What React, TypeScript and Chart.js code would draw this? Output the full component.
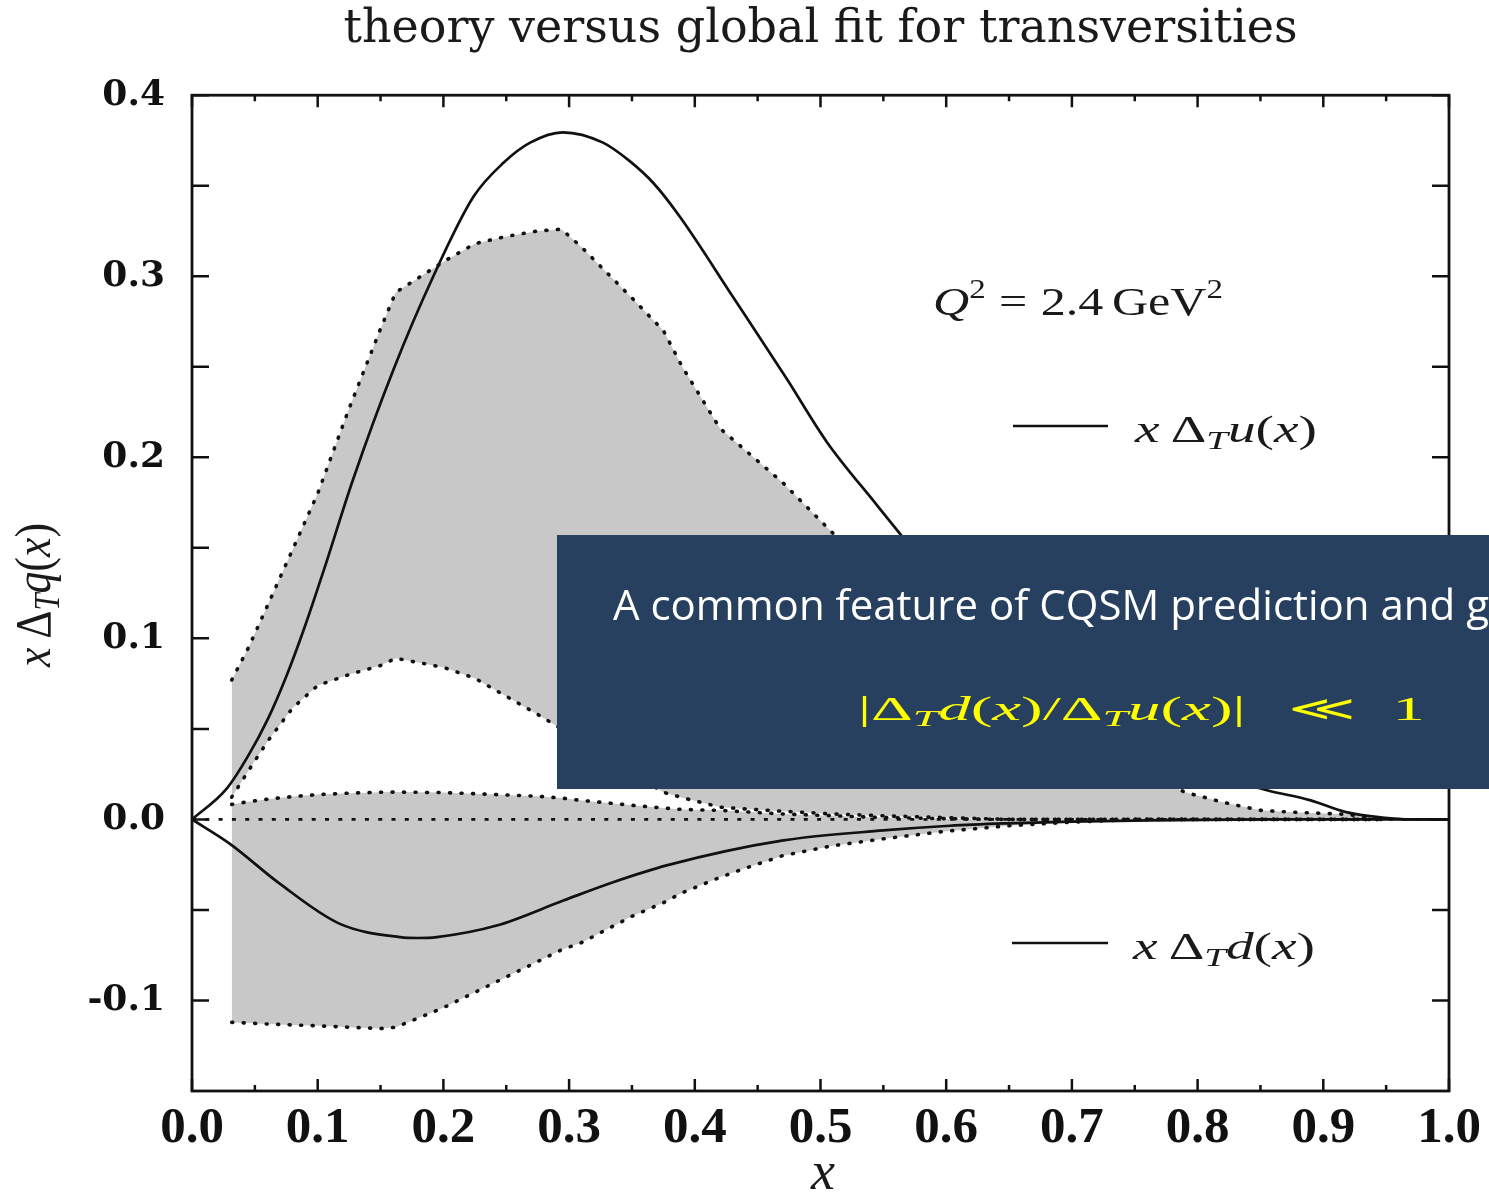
import React, { useEffect, useRef } from "react";
import { Chart, registerables } from "chart.js";

Chart.register(...registerables);

const TITLE = "theory versus global fit for transversities";

// Chiral quark soliton model: x Δ_T u(x)
const uX = [0, 0.0276, 0.045, 0.06, 0.075, 0.09, 0.105, 0.128, 0.16, 0.192, 0.224, 0.248, 0.269, 0.295, 0.327, 0.348, 0.367, 0.388, 0.43, 0.473, 0.505, 0.545, 0.563, 0.6, 0.65, 0.7, 0.75, 0.8, 0.856, 0.89, 0.918, 0.947, 0.97, 1.0];
const uY = [0, 0.017, 0.0355, 0.055, 0.079, 0.107, 0.138, 0.1875, 0.248, 0.3, 0.344, 0.3628, 0.3738, 0.3795, 0.3738, 0.3637, 0.3515, 0.333, 0.289, 0.2435, 0.2085, 0.1735, 0.158, 0.125, 0.085, 0.058, 0.04, 0.027, 0.016, 0.0105, 0.004, 0.001, 0, 0];

// Chiral quark soliton model: x Δ_T d(x)
const dX = [0, 0.0302, 0.07, 0.1177, 0.1655, 0.18, 0.1947, 0.2424, 0.2954, 0.335, 0.3776, 0.4704, 0.55, 0.603, 0.648, 0.7, 0.762, 0.85, 1.0];
const dY = [0, -0.0135, -0.0356, -0.0577, -0.065, -0.0655, -0.065, -0.0586, -0.0448, -0.0347, -0.0254, -0.0116, -0.0061, -0.0035, -0.0022, -0.0012, -0.0005, 0, 0];

// Global-fit uncertainty bands, sampled on a common x grid
const bandX = [0.0316, 0.045, 0.06, 0.08, 0.1, 0.125, 0.15, 0.162, 0.2, 0.225, 0.25, 0.275, 0.294, 0.31, 0.35, 0.375, 0.39, 0.42, 0.44, 0.47, 0.51, 0.55, 0.6, 0.65, 0.7, 0.75, 0.79, 0.82, 0.85, 0.875, 0.92, 0.935, 0.95];
const uUpper = [0.077, 0.095, 0.118, 0.149, 0.18, 0.227, 0.271, 0.291, 0.308, 0.318, 0.322, 0.325, 0.326, 0.316, 0.288, 0.27, 0.25, 0.216, 0.204, 0.186, 0.158, 0.133, 0.104, 0.075, 0.05, 0.029, 0.015, 0.0095, 0.005, 0.004, 0.0028, 0.001, 0];
const uLower = [0.0123, 0.027, 0.043, 0.0615, 0.074, 0.08, 0.085, 0.089, 0.084, 0.078, 0.068, 0.058, 0.05, 0.043, 0.026, 0.015, 0.012, 0.0068, 0.0058, 0.0045, 0.003, 0.002, 0.001, 0, 0, 0, 0, 0, 0, 0, 0, 0, 0];
const dUpper = [0.0083, 0.0098, 0.0112, 0.0126, 0.0137, 0.0145, 0.015, 0.0151, 0.0148, 0.0142, 0.0135, 0.0128, 0.0118, 0.0105, 0.0078, 0.0063, 0.0055, 0.005, 0.0042, 0.003, 0.002, 0.001, 0.0004, 0, 0, 0, 0, 0, 0, 0, 0, 0, 0];
const dLower = [-0.1121, -0.1125, -0.113, -0.1135, -0.114, -0.1148, -0.1155, -0.1148, -0.104, -0.0955, -0.087, -0.0785, -0.072, -0.068, -0.0535, -0.046, -0.0405, -0.032, -0.027, -0.02, -0.0145, -0.0107, -0.0065, -0.0035, -0.0015, 0, 0, 0, 0, 0, 0, 0, 0];

const zeroX = [0, 1];
const zeroY = [0, 0];

const xTicks = [0, 0.1, 0.2, 0.3, 0.4, 0.5, 0.6, 0.7, 0.8, 0.9, 1.0];
const xTickLabels = ["0.0", "0.1", "0.2", "0.3", "0.4", "0.5", "0.6", "0.7", "0.8", "0.9", "1.0"];
const xMinorTicks = [0.05, 0.15, 0.25, 0.35, 0.45, 0.55, 0.65, 0.75, 0.85, 0.95];
const yTicks = [-0.1, 0, 0.1, 0.2, 0.3, 0.4];
const yTickLabels = ["-0.1", "0.0", "0.1", "0.2", "0.3", "0.4"];
const yMinorTicks = [-0.05, 0.05, 0.15, 0.25, 0.35];

const noteHeading = "A common feature of CQSM prediction and global fit";

const INK = "#111";
const TEXT = "#1a1a1a";
const BAND = "#c8c8c8";
const NOTE_BG = "#274060";
const NOTE_MATH = "#ffff00";

const SERIF = "'Liberation Serif', 'Times New Roman', serif";
const it = (s: number) => `italic ${s}px ${SERIF}`;
const rm = (s: number) => `${s}px ${SERIF}`;

type Run = { t: string; f: string; dy?: number; gap?: number };

const subT = (s: number): Run => ({ t: "T", f: it(Math.round(s * 0.7)), dy: Math.round(s * 0.18) });

// x Δ_T q(x) style label, q being the flavour letter
const flavourRuns = (q: string, s: number): Run[] => [
  { t: "x", f: it(s) },
  { t: "Δ", f: rm(s), gap: s * 0.2 },
  subT(s),
  { t: q, f: it(s) },
  { t: "(", f: rm(s) },
  { t: "x", f: it(s) },
  { t: ")", f: rm(s) },
];

const scaleRuns: Run[] = [
  { t: "Q", f: it(41) },
  { t: "2", f: rm(27), dy: -17 },
  { t: "=", f: rm(41), gap: 11 },
  { t: "2.4", f: rm(41), gap: 11 },
  { t: "GeV", f: rm(41), gap: 7 },
  { t: "2", f: rm(27), dy: -17 },
];

const ratioRuns: Run[] = [
  { t: "|", f: rm(34) },
  { t: "Δ", f: rm(34) },
  subT(34),
  { t: "d", f: it(34) },
  { t: "(", f: rm(34) },
  { t: "x", f: it(34) },
  { t: ")", f: rm(34) },
  { t: "/", f: rm(34) },
  { t: "Δ", f: rm(34) },
  subT(34),
  { t: "u", f: it(34) },
  { t: "(", f: rm(34) },
  { t: "x", f: it(34) },
  { t: ")", f: rm(34) },
  { t: "|", f: rm(34) },
  { t: "≪", f: "34px 'DejaVu Serif'", gap: 22 },
  { t: "1", f: rm(34), gap: 19 },
];

// Draws a sequence of styled text pieces, stretched horizontally to a given width
function drawRuns(ctx: CanvasRenderingContext2D, runs: Run[], x: number, y: number, width: number) {
  let natural = 0;
  for (const r of runs) {
    ctx.font = r.f;
    natural += (r.gap || 0) + ctx.measureText(r.t).width;
  }
  ctx.save();
  ctx.translate(x, y);
  ctx.scale(width / natural, 1);
  ctx.textAlign = "left";
  ctx.textBaseline = "alphabetic";
  let cx = 0;
  for (const r of runs) {
    ctx.font = r.f;
    cx += r.gap || 0;
    ctx.fillText(r.t, cx, r.dy || 0);
    cx += ctx.measureText(r.t).width;
  }
  ctx.restore();
}

const pts = (xs: number[], ys: number[]) => xs.map((x, i) => ({ x, y: ys[i] }));

const framePlugin = {
  id: "frameAndNotes",
  afterDraw(chart: any) {
    const ctx: CanvasRenderingContext2D = chart.ctx;
    const { left, right, top, bottom } = chart.chartArea;
    const xs = chart.scales.x;
    const ys = chart.scales.y;

    ctx.save();
    // inward ticks on all four sides
    ctx.strokeStyle = INK;
    ctx.lineWidth = 2.5;
    ctx.lineCap = "butt";
    ctx.beginPath();
    for (const v of xTicks) {
      const p = xs.getPixelForValue(v);
      ctx.moveTo(p, bottom); ctx.lineTo(p, bottom - 12);
      ctx.moveTo(p, top); ctx.lineTo(p, top + 12);
    }
    for (const v of xMinorTicks) {
      const p = xs.getPixelForValue(v);
      ctx.moveTo(p, bottom); ctx.lineTo(p, bottom - 6);
      ctx.moveTo(p, top); ctx.lineTo(p, top + 6);
    }
    for (const v of [...yTicks, ...yMinorTicks]) {
      const p = ys.getPixelForValue(v);
      ctx.moveTo(left, p); ctx.lineTo(left + 17, p);
      ctx.moveTo(right, p); ctx.lineTo(right - 17, p);
    }
    ctx.stroke();
    ctx.lineWidth = 2.8;
    ctx.strokeRect(left, top, right - left, bottom - top);

    // legend keys
    ctx.lineWidth = 2.5;
    ctx.beginPath();
    ctx.moveTo(1013, 426); ctx.lineTo(1108, 426);
    ctx.moveTo(1012, 943); ctx.lineTo(1108, 943);
    ctx.stroke();

    ctx.fillStyle = TEXT;
    drawRuns(ctx, scaleRuns, 933, 315, 290);
    drawRuns(ctx, flavourRuns("u", 37), 1135, 442, 182);
    drawRuns(ctx, flavourRuns("d", 37), 1133, 959, 182);

    // axis titles
    ctx.save();
    ctx.translate(50, 595);
    ctx.rotate(-Math.PI / 2);
    drawRuns(ctx, flavourRuns("q", 50), -72, 0, 144);
    ctx.restore();

    ctx.font = it(54);
    ctx.textAlign = "center";
    ctx.textBaseline = "alphabetic";
    ctx.fillText("x", 823, 1189);

    // note box
    ctx.fillStyle = NOTE_BG;
    ctx.fillRect(557, 535, chart.width - 557, 254);
    ctx.fillStyle = "#ffffff";
    ctx.font = "42px 'Open Sans', 'Noto Sans', sans-serif";
    ctx.textAlign = "left";
    ctx.fillText(noteHeading, 613, 620);
    ctx.fillStyle = NOTE_MATH;
    drawRuns(ctx, ratioRuns, 858, 720, 567);
    ctx.restore();
  },
};

export default function App() {
  const ref = useRef<HTMLCanvasElement | null>(null);

  useEffect(() => {
    if (!ref.current) return;
    const dotted = {
      borderColor: INK,
      borderWidth: 3.6,
      borderDash: [1, 10.5],
      borderCapStyle: "round" as const,
      pointRadius: 0,
      tension: 0,
    };
    const solid = {
      borderColor: INK,
      borderWidth: 2.7,
      pointRadius: 0,
      cubicInterpolationMode: "monotone" as const,
      fill: false,
    };
    const chart = new Chart(ref.current, {
      type: "line",
      data: {
        datasets: [
          { label: "x ΔTu(x)", data: pts(uX, uY), ...solid },
          { label: "x ΔTd(x)", data: pts(dX, dY), ...solid },
          {
            label: "zero",
            data: pts(zeroX, zeroY),
            borderColor: INK,
            borderWidth: 2.6,
            borderDash: [4, 9.3],
            pointRadius: 0,
            fill: false,
          },
          { label: "u band upper", data: pts(bandX, uUpper), ...dotted, fill: "+1", backgroundColor: BAND },
          { label: "u band lower", data: pts(bandX, uLower), ...dotted, fill: false },
          { label: "d band upper", data: pts(bandX, dUpper), ...dotted, fill: "+1", backgroundColor: BAND },
          { label: "d band lower", data: pts(bandX, dLower), ...dotted, fill: false },
        ],
      },
      options: {
        animation: false,
        responsive: false,
        maintainAspectRatio: false,
        events: [],
        layout: { padding: { top: 2, right: 40, bottom: 0, left: 0 } },
        plugins: {
          legend: { display: false },
          tooltip: { enabled: false },
          filler: { drawTime: "beforeDatasetsDraw", propagate: false },
          title: {
            display: true,
            text: TITLE,
            fullSize: false,
            color: TEXT,
            font: { family: "'DejaVu Serif'", size: 46, weight: "normal" },
            padding: { top: 0, bottom: 38 },
          },
        } as any,
        scales: {
          x: {
            type: "linear",
            min: 0,
            max: 1,
            grid: { display: false, drawTicks: false },
            border: { display: false },
            afterBuildTicks: (s: any) => {
              s.ticks = xTicks.map((v) => ({ value: v }));
            },
            afterFit: (s: any) => {
              s.height = 101;
            },
            ticks: {
              callback: (_v: any, i: number) => xTickLabels[i],
              font: { family: "'Liberation Serif'", size: 51, weight: "bold" },
              color: INK,
              padding: 7,
              maxRotation: 0,
              autoSkip: false,
            },
          },
          y: {
            type: "linear",
            min: -0.15,
            max: 0.4,
            grid: { display: false, drawTicks: false },
            border: { display: false },
            afterBuildTicks: (s: any) => {
              s.ticks = yTicks.map((v) => ({ value: v }));
            },
            afterFit: (s: any) => {
              s.width = 192;
            },
            ticks: {
              callback: (_v: any, i: number) => yTickLabels[i],
              font: { family: "'DejaVu Serif'", size: 36, weight: "bold" },
              color: INK,
              padding: 27,
              autoSkip: false,
            },
          },
        } as any,
      },
      plugins: [framePlugin],
    });
    return () => chart.destroy();
  }, []);

  return (
    <div
      style={{
        position: "fixed",
        left: 0,
        top: 0,
        width: 1489,
        height: 1192,
        overflow: "hidden",
        background: "#ffffff",
      }}
    >
      <canvas ref={ref} width={1489} height={1192} style={{ display: "block" }} />
    </div>
  );
}
